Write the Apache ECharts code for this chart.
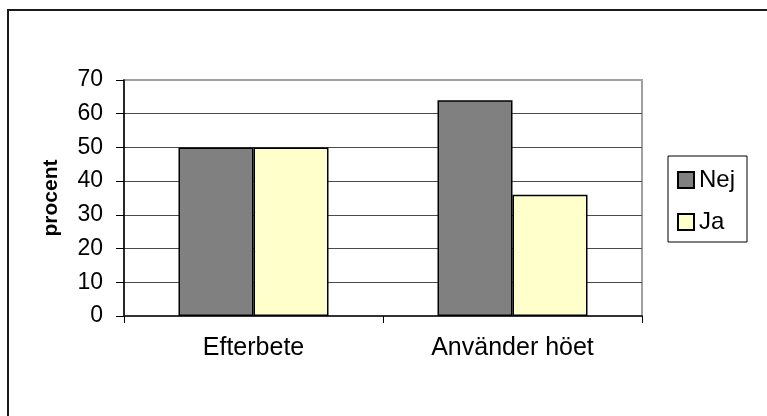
<!DOCTYPE html>
<html>
<head>
<meta charset="utf-8">
<script src="https://cdn.jsdelivr.net/npm/echarts@6/dist/echarts.min.js"></script>
<style>
  html, body { margin: 0; padding: 0; background: #ffffff; }
  #chart { width: 767px; height: 416px; }
</style>
</head>
<body>
<div id="chart"></div>
<script>
const categories = ['Efterbete', 'Använder höet'];
const nejValues = [50, 64];
const jaValues = [50, 36];
const yTicks = [0, 10, 20, 30, 40, 50, 60, 70];

const font = "'Liberation Sans', Arial, sans-serif";

const chart = echarts.init(document.getElementById('chart'));

chart.setOption({
  animation: false,
  backgroundColor: '#ffffff',
  textStyle: {
    fontFamily: font,
  },
  graphic: [
    {
      type: 'rect',
      shape: { x: 8, y: 10, width: 800, height: 450 },
      style: { fill: 'none', stroke: '#1a1a1a', lineWidth: 2 },
      silent: true,
    },
  ],
  grid: {
    left: 124,
    top: 80,
    width: 518,
    height: 236,
    show: true,
    borderColor: '#a0a0a0',
    borderWidth: 2,
    backgroundColor: 'transparent',
  },
  legend: {
    orient: 'vertical',
    left: 668,
    top: 156,
    padding: [12, 12, 8, 9],
    itemGap: 18,
    itemWidth: 16,
    itemHeight: 16,
    icon: 'rect',
    borderColor: '#000000',
    borderWidth: 1,
    backgroundColor: '#ffffff',
    data: ['Nej', 'Ja'],
    textStyle: {
      fontFamily: font,
      fontSize: 24,
      color: '#000000',
    },
  },
  xAxis: {
    type: 'category',
    data: categories,
    axisLine: {
      show: true,
      lineStyle: { color: '#333333', width: 2 },
    },
    axisTick: {
      show: true,
      length: 7,
      lineStyle: { color: '#000000', width: 1 },
    },
    axisLabel: {
      fontFamily: font,
      fontSize: 25,
      color: '#000000',
      margin: 20,
    },
    splitLine: { show: false },
  },
  yAxis: {
    type: 'value',
    min: yTicks[0],
    max: yTicks[yTicks.length - 1],
    interval: 10,
    name: 'procent',
    nameLocation: 'middle',
    nameRotate: 90,
    nameGap: 62,
    nameTextStyle: {
      fontFamily: font,
      fontSize: 21,
      fontWeight: 'bold',
      color: '#000000',
    },
    axisLine: {
      show: true,
      lineStyle: { color: '#000000', width: 1.5 },
    },
    axisTick: {
      show: true,
      length: 8,
      lineStyle: { color: '#000000', width: 1 },
    },
    axisLabel: {
      fontFamily: font,
      fontSize: 23,
      color: '#000000',
      margin: 21,
    },
    splitLine: {
      show: true,
      showMaxLine: false,
      lineStyle: { color: '#4a4a4a', width: 1 },
    },
  },
  series: [
    {
      name: 'Nej',
      type: 'bar',
      data: nejValues,
      barWidth: 75,
      barGap: '0%',
      itemStyle: {
        color: '#808080',
        borderColor: '#000000',
        borderWidth: 1.5,
      },
    },
    {
      name: 'Ja',
      type: 'bar',
      data: jaValues,
      barWidth: 75,
      barGap: '0%',
      itemStyle: {
        color: '#ffffcc',
        borderColor: '#000000',
        borderWidth: 1.5,
      },
    },
  ],
});
</script>
</body>
</html>
